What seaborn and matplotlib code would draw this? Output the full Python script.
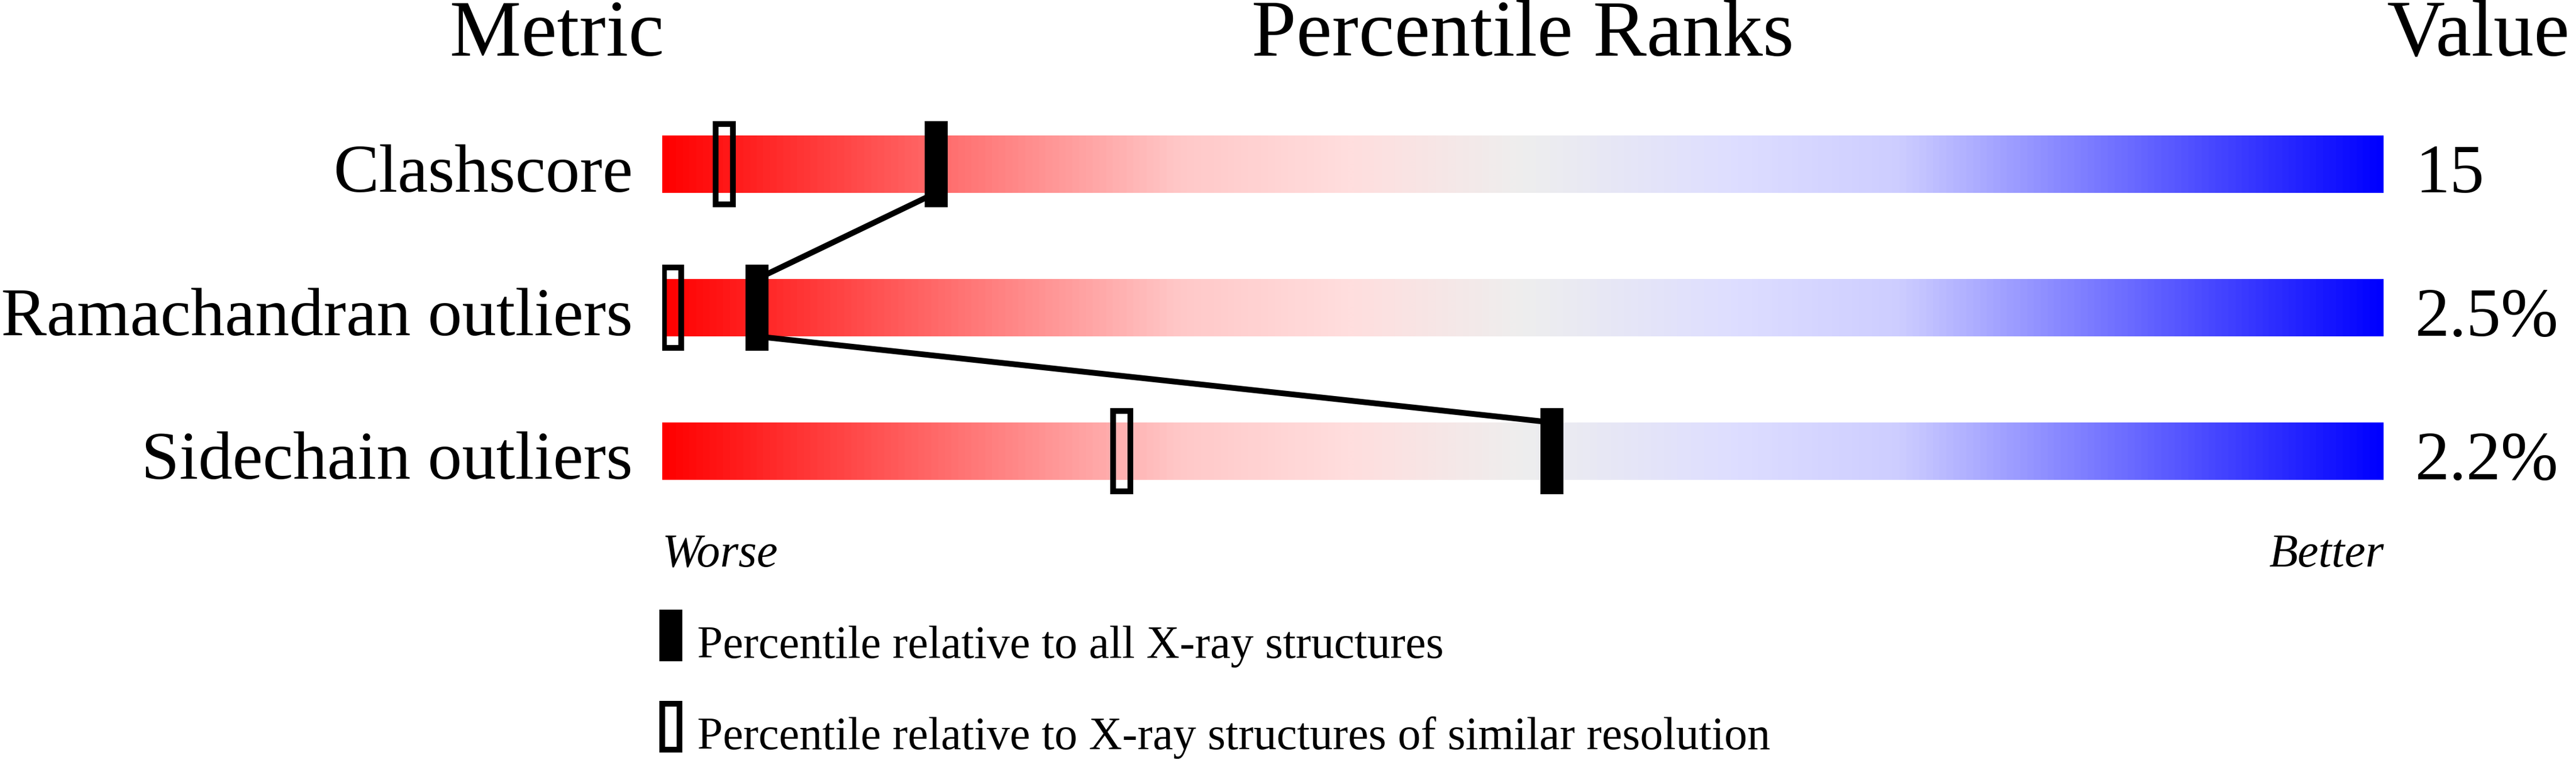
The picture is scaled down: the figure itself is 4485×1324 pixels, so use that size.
import numpy as np
import pandas as pd
import matplotlib
matplotlib.use("Agg")
import matplotlib.pyplot as plt
import seaborn as sns
from matplotlib.colors import LinearSegmentedColormap
from matplotlib.patches import Rectangle
import matplotlib.transforms as mtransforms

# ---------------- data ----------------
metrics = ["Clashscore", "Ramachandran outliers", "Sidechain outliers"]
values_text = ["15", "2.5%", "2.2%"]
pct_all = [15.9, 5.5, 51.7]        # percentile relative to all X-ray structures (filled)
pct_similar = [3.6, 0.6, 26.7]     # percentile relative to similar resolution (hollow)
header_labels = ["Metric", "Percentile Ranks", "Value"]
end_labels = ["Worse", "Better"]
legend_labels = ["Percentile relative to all X-ray structures",
                 "Percentile relative to X-ray structures of similar resolution"]

# ---------------- style ----------------
sns.set_theme(style="white")
plt.rcParams["font.family"] = ["Liberation Serif", "DejaVu Serif"]
plt.rcParams["text.color"] = "black"

W, H, DPI = 4485, 1324, 100
PX = 72.0 / DPI  # points per pixel

fig = plt.figure(figsize=(W / DPI, H / DPI), dpi=DPI)
fig.patch.set_facecolor("white")

bar_left, bar_right = 1153, 4150
row0, pitch = 286, 250
ax = fig.add_axes([bar_left / W, 0, (bar_right - bar_left) / W, 1])

px_per_pct = (bar_right - bar_left) / 100.0
bar_half = 50 / pitch          # bar half height in row units
mark_half = 75 / pitch         # marker half height

# gradient
cmap = LinearSegmentedColormap.from_list("slider", [
    (0.00, (1.0, 0.0, 0.0)),
    (0.30, (1.0, 200/255, 200/255)),
    (0.40, (1.0, 222/255, 222/255)),
    (0.50, (238/255, 238/255, 238/255)),
    (0.62, (222/255, 222/255, 1.0)),
    (0.72, (205/255, 205/255, 1.0)),
    (1.00, (0.0, 0.0, 1.0)),
])
grad = np.linspace(0, 1, 3000)[None, :]
rows = np.arange(len(metrics))
for r in rows:
    ax.imshow(grad, cmap=cmap, aspect="auto", interpolation="bilinear",
              extent=(0, 100, r + bar_half, r - bar_half), zorder=1)

# connector line (bar bottom of one row to bar top of next, at filled marker x)
lx, ly = [], []
for i, r in enumerate(rows):
    if i > 0:
        lx.append(pct_all[i]); ly.append(r - bar_half)
    if i < len(rows) - 1:
        lx.append(pct_all[i]); ly.append(r + bar_half)
line_df = pd.DataFrame({"x": lx, "y": ly})
sns.lineplot(data=line_df, x="x", y="y", sort=False, estimator=None,
             color="black", linewidth=10 * PX, ax=ax, zorder=2)
for l in ax.lines:
    l.set_solid_capstyle("butt")

# markers
mw = 40 / px_per_pct
lw_h = 10
ax.bar(pct_all, 2 * mark_half, width=mw, bottom=rows - mark_half,
       color="black", linewidth=0, zorder=4)
ax.bar(pct_similar, 2 * mark_half - lw_h / pitch, width=mw - lw_h / px_per_pct,
       bottom=rows - mark_half + lw_h / 2 / pitch,
       facecolor="none", edgecolor="black", linewidth=lw_h * PX, zorder=4)

ax.set_xlim(0, 100)
ax.set_ylim((H - row0) / pitch, -row0 / pitch)
ax.axis("off")

# text
tr_x_axes = mtransforms.blended_transform_factory(ax.transAxes, ax.transData)
lab_fs = 119 * PX
val_fs = 120 * PX
for r, m, v in zip(rows, metrics, values_text):
    ax.text((1102 - bar_left) / (bar_right - bar_left), r + 48 / pitch, m,
            transform=tr_x_axes, ha="right", va="baseline", fontsize=lab_fs, color="black")
    ax.text((4205 - bar_left) / (bar_right - bar_left), r + 49 / pitch, v,
            transform=tr_x_axes, ha="left", va="baseline", fontsize=val_fs, color="black")

hdr_fs = 140 * PX
hdr_y = (97 - row0) / pitch
ax.text((970 - bar_left) / (bar_right - bar_left), hdr_y, header_labels[0],
        transform=tr_x_axes, ha="center", va="baseline", fontsize=hdr_fs, color="black")
ax.text(0.5, hdr_y, header_labels[1], transform=tr_x_axes, ha="center",
        va="baseline", fontsize=hdr_fs, color="black")
ax.text((4155 - bar_left) / (bar_right - bar_left), hdr_y, header_labels[2],
        transform=tr_x_axes, ha="left", va="baseline", fontsize=hdr_fs, color="black")

end_y = (987 - row0) / pitch
ax.text(0.0, end_y, end_labels[0], transform=tr_x_axes, ha="left", va="baseline",
        fontsize=82 * PX, style="italic", color="black")
ax.text(1.0, end_y, end_labels[1], transform=tr_x_axes, ha="right", va="baseline",
        fontsize=82 * PX, style="italic", color="black")

# legend (decoration, in pixel space)
deco = fig.add_axes([0, 0, 1, 1], zorder=5)
deco.set_xlim(0, W)
deco.set_ylim(H, 0)
deco.axis("off")
deco.patch.set_alpha(0)
deco.add_patch(Rectangle((1148, 1062), 40, 90, facecolor="black", linewidth=0))
deco.add_patch(Rectangle((1153, 1226), 30, 80, facecolor="none", edgecolor="black",
                         linewidth=10 * PX))
deco.text(1214, 1146, legend_labels[0], ha="left", va="baseline", fontsize=80 * PX,
          color="black")
deco.text(1214, 1305, legend_labels[1], ha="left", va="baseline", fontsize=80 * PX,
          color="black")

fig.savefig("out.png", dpi=DPI, facecolor="white")
